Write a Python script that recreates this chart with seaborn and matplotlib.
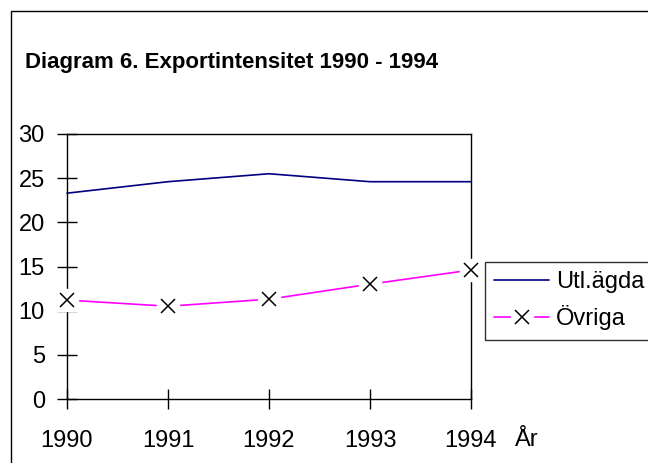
import matplotlib
matplotlib.use("Agg")
import matplotlib.pyplot as plt
import seaborn as sns
import pandas as pd
from matplotlib.lines import Line2D
from matplotlib.patches import Rectangle
from matplotlib.legend_handler import HandlerTuple

years = [1990, 1991, 1992, 1993, 1994]
utlagda = [23.3, 24.6, 25.5, 24.6, 24.6]
ovriga = [11.2, 10.5, 11.3, 13.0, 14.6]
series_names = ["Utl.ägda", "Övriga"]
title = "Diagram 6. Exportintensitet 1990 - 1994"
xlabel = "År"
yticks = [0, 5, 10, 15, 20, 25, 30]

df = pd.DataFrame({
    "År": years * 2,
    "Värde": utlagda + ovriga,
    "Serie": [series_names[0]] * len(years) + [series_names[1]] * len(years),
})

sns.set_theme(style="white")
plt.rcParams["font.family"] = ["Liberation Sans", "DejaVu Sans"]
plt.rcParams["text.color"] = "black"
plt.rcParams["xtick.color"] = "black"
plt.rcParams["ytick.color"] = "black"

W, H = 648, 463
fig = plt.figure(figsize=(W / 100, H / 100), dpi=100)
ax = fig.add_axes([67 / W, 1 - 399 / H, (471 - 67) / W, (399 - 134) / H])

palette = {series_names[0]: "#000080", series_names[1]: "#FF00FF"}
sns.lineplot(data=df, x="År", y="Värde", hue="Serie", palette=palette,
             ax=ax, linewidth=1.2, legend=False, clip_on=False)
# white background behind markers, then black x markers
ax.plot(years, ovriga, linestyle="none", marker="s", markersize=16,
        markerfacecolor="white", markeredgecolor="white", zorder=3, clip_on=False)
ax.plot(years, ovriga, linestyle="none", marker="x", markersize=10,
        markeredgecolor="black", markeredgewidth=1.1, zorder=4, clip_on=False)

ax.set_xlim(1990, 1994)
ax.set_ylim(0, 30)
ax.set_xticks(years)
ax.set_yticks(yticks)
ax.set_xlabel("")
ax.set_ylabel("")
for s in ax.spines.values():
    s.set_visible(True)
    s.set_color("black")
    s.set_linewidth(1.0)
ax.tick_params(axis="both", direction="inout", length=14, width=1.0,
               color="black", labelsize=17, labelcolor="black",
               left=True, bottom=True)
ax.tick_params(axis="x", pad=15)
ax.tick_params(axis="y", pad=9)
ax.set_facecolor("white")

fig.text(25 / W, 1 - 68 / H, title, fontsize=16, fontweight="bold",
         ha="left", va="baseline", color="black")
fig.text(527 / W, 1 - 440 / H, xlabel, fontsize=17, ha="center", va="center",
         color="black")

# outer chart frame
fig.patches.append(Rectangle((11 / W, -0.1), 1.2, 1 - 11 / H + 0.1,
                             transform=fig.transFigure, fill=False,
                             edgecolor="black", linewidth=1.0))

h1 = Line2D([], [], color="#000080", linewidth=1.2)
h2a = Line2D([], [], color="#FF00FF", linewidth=1.2, marker="s", markersize=16,
             markerfacecolor="white", markeredgecolor="white")
h2c = Line2D([], [], linestyle="none", marker="x", markersize=10,
             markeredgecolor="black", markeredgewidth=1.1)
leg = fig.legend([h1, (h2a, h2c)], series_names,
                 handler_map={tuple: HandlerTuple(ndivide=1, pad=0)},
                 loc="upper left", bbox_to_anchor=(485 / W, 1 - 262 / H),
                 borderaxespad=0, fontsize=17, frameon=True, fancybox=False,
                 edgecolor="black", handlelength=2.3, handletextpad=0.3,
                 labelspacing=0.5, borderpad=0.4, numpoints=1)
leg.get_frame().set_linewidth(1.0)
for t in leg.get_texts():
    t.set_color("black")

fig.savefig("out.png", dpi=100, facecolor="white")
